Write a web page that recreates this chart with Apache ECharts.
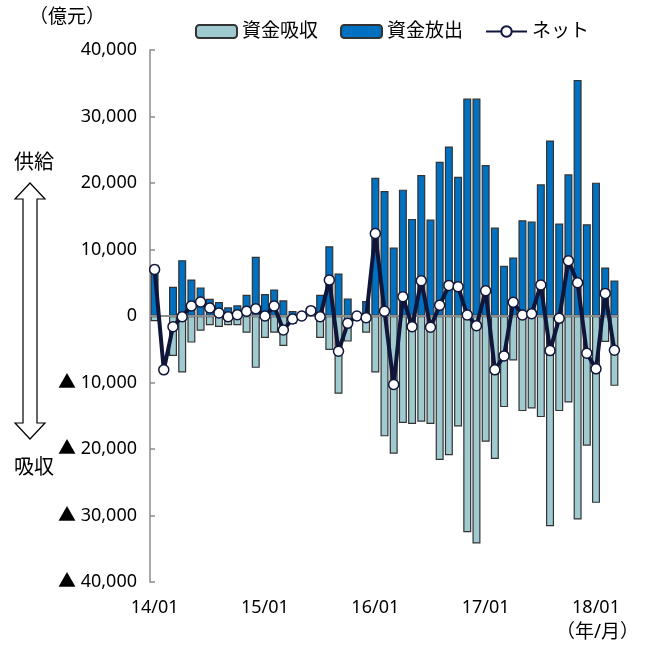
<!DOCTYPE html>
<html>
<head>
<meta charset="utf-8">
<script src="https://cdn.jsdelivr.net/npm/echarts@6/dist/echarts.min.js"></script>
<style>
html,body{margin:0;padding:0;background:#fff;}
#chart{width:646px;height:653px;}
</style>
</head>
<body>
<div id="chart"></div>
<script>
const categories = [
  "14/01","14/02","14/03","14/04","14/05","14/06","14/07","14/08","14/09","14/10","14/11","14/12",
  "15/01","15/02","15/03","15/04","15/05","15/06","15/07","15/08","15/09","15/10","15/11","15/12",
  "16/01","16/02","16/03","16/04","16/05","16/06","16/07","16/08","16/09","16/10","16/11","16/12",
  "17/01","17/02","17/03","17/04","17/05","17/06","17/07","17/08","17/09","17/10","17/11","17/12",
  "18/01","18/02","18/03"
];
// 資金吸収 (absorption, negative)
const absorption = [
  -800, null, -6000, -8500, -4000, -2200, -1400, -1650, -1400, -1400, -2500, -7800,
  -3300, -2500, -4500, -1200, null, null, -3300, -5100, -11700, -3850, null, -2500,
  -8500, -18100, -20700, -16100, -16250, -15900, -16250, -21650, -20950, -16600, -32500, -34200,
  -18900, -21500, -13700, -6700, -14300, -13900, -15200, -31600, -14300, -13000, -30600, -19500,
  -28100, -3900, -10500
];
// 資金放出 (supply, positive)
const supply = [
  7700, null, 4400, 8400, 5500, 4300, 2600, 2100, 1300, 1600, 3200, 8900,
  3300, 4000, 2350, 750, null, 800, 3200, 10500, 6400, 2650, null, 2250,
  20800, 18800, 10300, 19000, 14600, 21200, 14500, 23200, 25500, 20950, 32700, 32700,
  22700, 13300, 7550, 8800, 14400, 14200, 19800, 26400, 13900, 21300, 35500, 13800,
  20050, 7300, 5350
];
// ネット (net)
const net = [
  7000, -8100, -1600, -100, 1500, 2100, 1200, 450, -100, 200, 700, 1100,
  0, 1500, -2100, -450, 0, 800, -100, 5400, -5300, -1100, 0, -250,
  12400, 700, -10300, 2900, -1600, 5300, -1700, 1600, 4600, 4400, 150, -1450,
  3800, -8100, -6000, 2050, 150, 350, 4650, -5200, -350, 8300, 5000, -5600,
  -7950, 3400, -5150
];
const yTicks = [-40000, -30000, -20000, -10000, 0, 10000, 20000, 30000, 40000];

const FONT = "'Noto Sans', 'Noto Sans CJK JP', sans-serif";
const chart = echarts.init(document.getElementById('chart'), null, {renderer: 'canvas'});

function fmt(v) {
  const s = Math.abs(v).toLocaleString('en-US');
  if (v < 0) return '▲ ' + s;
  return s;
}

const option = {
  animation: false,
  backgroundColor: '#fff',
  textStyle: {fontFamily: FONT},
  grid: {left: 150, right: 27, top: 50, bottom: 71, containLabel: false},
  legend: {
    left: 190, top: 17,
    itemWidth: 41, itemHeight: 13, itemGap: 22,
    textStyle: {fontSize: 19, color: '#000', fontFamily: FONT},
    data: ['資金吸収', '資金放出', 'ネット']
  },
  xAxis: {
    type: 'category',
    data: categories,
    boundaryGap: true,
    axisLine: {show: false},
    axisTick: {show: false},
    axisLabel: {
      interval: function (i) { return i % 12 === 0; },
      fontSize: 18, color: '#000', margin: 17, fontFamily: FONT
    },
    splitLine: {show: false}
  },
  yAxis: {
    type: 'value',
    min: yTicks[0], max: yTicks[yTicks.length - 1], interval: 10000,
    axisLine: {show: true, lineStyle: {color: '#8c8c8c', width: 1.5}},
    axisTick: {show: true, inside: true, length: 5, lineStyle: {color: '#8c8c8c', width: 1.5}},
    axisLabel: {formatter: fmt, fontSize: 18, color: '#000', margin: 13, fontFamily: FONT},
    splitLine: {show: false}
  },
  series: [
    {
      name: '資金吸収', type: 'bar', stack: 'flow',
      data: absorption, barCategoryGap: '13%',
      itemStyle: {color: '#9ecad0', borderColor: '#333333', borderWidth: 1.2}
    },
    {
      name: '資金放出', type: 'bar', stack: 'flow',
      data: supply, barCategoryGap: '13%',
      itemStyle: {color: '#0070c0', borderColor: '#333333', borderWidth: 1.2},
      markLine: {
        silent: true, symbol: 'none', label: {show: false},
        lineStyle: {color: '#8c8c8c', width: 2, type: 'solid'},
        data: [{yAxis: 0}]
      }
    },
    {
      name: 'ネット', type: 'line', data: net,
      symbol: 'circle', symbolSize: 10, showAllSymbol: true,
      lineStyle: {color: '#10163a', width: 4},
      itemStyle: {color: '#ffffff', borderColor: '#10163a', borderWidth: 1.5},
      z: 5
    }
  ],
  graphic: [
    {type: 'text', left: 29, top: 8, style: {text: '（億元）', font: '19px ' + FONT, fill: '#000'}},
    {type: 'text', left: 14, top: 153, style: {text: '供給', font: '20px ' + FONT, fill: '#000'}},
    {type: 'text', left: 14, top: 458, style: {text: '吸収', font: '20px ' + FONT, fill: '#000'}},
    {type: 'text', left: 556, top: 623, style: {text: '（年/月）', font: '19px ' + FONT, fill: '#000'}},
    {
      type: 'polygon',
      shape: {points: [[30,183],[45,199],[37,199],[37,423],[45,423],[30,439],[15,423],[23,423],[23,199],[15,199]]},
      style: {fill: '#fff', stroke: '#000', lineWidth: 1.2}
    }
  ]
};
chart.setOption(option);
</script>
</body>
</html>
